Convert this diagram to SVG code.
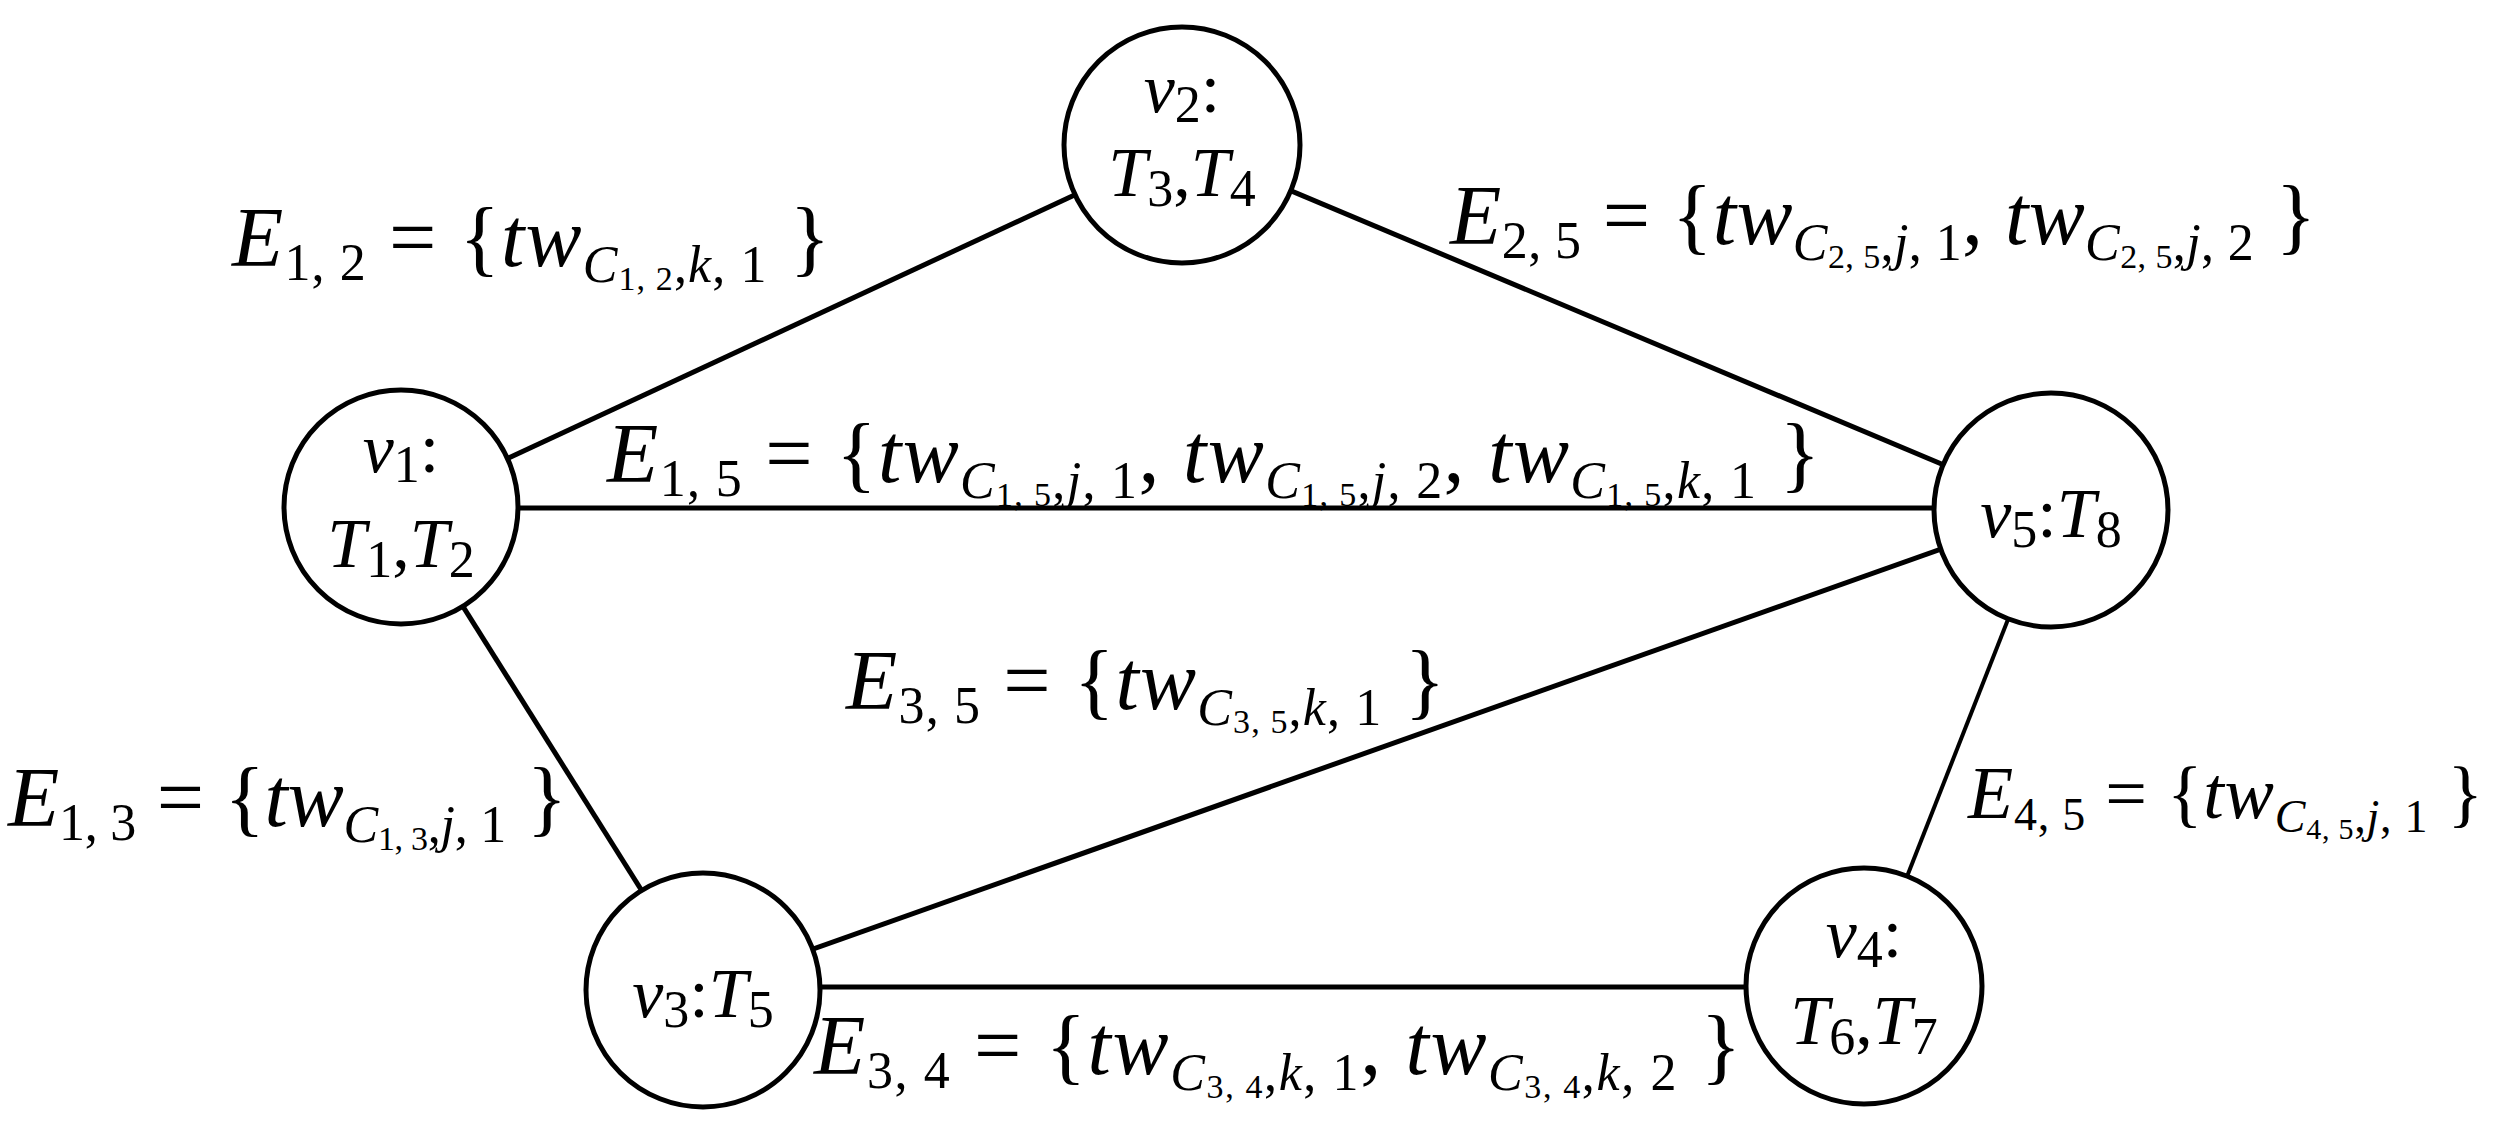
<svg xmlns="http://www.w3.org/2000/svg" width="2504" height="1135" viewBox="0 0 2504 1135">
<style>
text{font-family:"Liberation Serif","DejaVu Serif",serif;fill:#000}
.lab{font-size:84px}
.nd{font-size:70px;text-anchor:middle}
.i{font-style:italic}
.s{font-size:52px}
.ss{font-size:34px}
circle{fill:#fff;stroke:#000;stroke-width:5}
#edges line{stroke:#000;stroke-width:5}
</style>
<rect width="2504" height="1135" fill="#fff"/>
<g id="edges">
<line x1="401" y1="508" x2="1182" y2="145"/>
<line x1="1182" y1="145" x2="2051" y2="510"/>
<line x1="401" y1="508" x2="2051" y2="508"/>
<line x1="401" y1="508" x2="703" y2="988"/>
<line x1="703" y1="988" x2="2051" y2="510"/>
<line x1="703" y1="987" x2="1864" y2="987"/>
<line x1="1864" y1="986" x2="2051" y2="510" style="stroke-width:4"/>
</g>
<g id="v1"><circle cx="401" cy="507" r="117"/>
<text class="nd" x="401" y="472"><tspan class="i">v</tspan><tspan class="s" dy="10">1</tspan><tspan dy="-10">:</tspan></text>
<text class="nd" x="401" y="567"><tspan class="i">T</tspan><tspan class="s" dy="10">1</tspan><tspan dy="-10">,</tspan><tspan class="i">T</tspan><tspan class="s" dy="10">2</tspan></text></g>
<g id="v2"><circle cx="1182" cy="145" r="118"/>
<text class="nd" x="1182" y="112"><tspan class="i">v</tspan><tspan class="s" dy="10">2</tspan><tspan dy="-10">:</tspan></text>
<text class="nd" x="1182" y="196"><tspan class="i">T</tspan><tspan class="s" dy="10">3</tspan><tspan dy="-10">,</tspan><tspan class="i">T</tspan><tspan class="s" dy="10">4</tspan></text></g>
<g id="v5"><circle cx="2051" cy="510" r="117"/>
<text class="nd" x="2051" y="537"><tspan class="i">v</tspan><tspan class="s" dy="10">5</tspan><tspan dy="-10">:</tspan><tspan class="i">T</tspan><tspan class="s" dy="10">8</tspan></text></g>
<g id="v3"><circle cx="703" cy="990" r="117"/>
<text class="nd" x="703" y="1017"><tspan class="i">v</tspan><tspan class="s" dy="10">3</tspan><tspan dy="-10">:</tspan><tspan class="i">T</tspan><tspan class="s" dy="10">5</tspan></text></g>
<g id="v4"><circle cx="1864" cy="986" r="118"/>
<text class="nd" x="1864" y="957"><tspan class="i">v</tspan><tspan class="s" dy="10">4</tspan><tspan dy="-10">:</tspan></text>
<text class="nd" x="1864" y="1044"><tspan class="i">T</tspan><tspan class="s" dy="10">6</tspan><tspan dy="-10">,</tspan><tspan class="i">T</tspan><tspan class="s" dy="10">7</tspan></text></g>
<g id="labels">
<text class="lab" x="232" y="266" textLength="598" lengthAdjust="spacing"><tspan class="i">E</tspan><tspan class="s" dy="14">1, 2</tspan><tspan dy="-14"> = {</tspan><tspan class="i">tw</tspan><tspan class="s i" dy="16">C</tspan><tspan class="ss" dy="8">1, 2</tspan><tspan class="s" dy="-8">,</tspan><tspan class="s i">k</tspan><tspan class="s">, 1</tspan><tspan dy="-16"> }</tspan></text>
<text class="lab" x="1450" y="244" textLength="866" lengthAdjust="spacing"><tspan class="i">E</tspan><tspan class="s" dy="14">2, 5</tspan><tspan dy="-14"> = {</tspan><tspan class="i">tw</tspan><tspan class="s i" dy="16">C</tspan><tspan class="ss" dy="8">2, 5</tspan><tspan class="s" dy="-8">,</tspan><tspan class="s i">j</tspan><tspan class="s">, 1</tspan><tspan dy="-16">, </tspan><tspan class="i">tw</tspan><tspan class="s i" dy="16">C</tspan><tspan class="ss" dy="8">2, 5</tspan><tspan class="s" dy="-8">,</tspan><tspan class="s i">j</tspan><tspan class="s">, 2</tspan><tspan dy="-16"> }</tspan></text>
<text class="lab" x="607" y="482" textLength="1213" lengthAdjust="spacing"><tspan class="i">E</tspan><tspan class="s" dy="14">1, 5</tspan><tspan dy="-14"> = {</tspan><tspan class="i">tw</tspan><tspan class="s i" dy="16">C</tspan><tspan class="ss" dy="8">1, 5</tspan><tspan class="s" dy="-8">,</tspan><tspan class="s i">j</tspan><tspan class="s">, 1</tspan><tspan dy="-16">, </tspan><tspan class="i">tw</tspan><tspan class="s i" dy="16">C</tspan><tspan class="ss" dy="8">1, 5</tspan><tspan class="s" dy="-8">,</tspan><tspan class="s i">j</tspan><tspan class="s">, 2</tspan><tspan dy="-16">, </tspan><tspan class="i">tw</tspan><tspan class="s i" dy="16">C</tspan><tspan class="ss" dy="8">1, 5</tspan><tspan class="s" dy="-8">,</tspan><tspan class="s i">k</tspan><tspan class="s">, 1</tspan><tspan dy="-16"> }</tspan></text>
<text class="lab" x="846" y="709" textLength="599" lengthAdjust="spacing"><tspan class="i">E</tspan><tspan class="s" dy="14">3, 5</tspan><tspan dy="-14"> = {</tspan><tspan class="i">tw</tspan><tspan class="s i" dy="16">C</tspan><tspan class="ss" dy="8">3, 5</tspan><tspan class="s" dy="-8">,</tspan><tspan class="s i">k</tspan><tspan class="s">, 1</tspan><tspan dy="-16"> }</tspan></text>
<text class="lab" x="8" y="826" textLength="559" lengthAdjust="spacing"><tspan class="i">E</tspan><tspan class="s" dy="14">1, 3</tspan><tspan dy="-14"> = {</tspan><tspan class="i">tw</tspan><tspan class="s i" dy="16">C</tspan><tspan class="ss" dy="8">1, 3</tspan><tspan class="s" dy="-8">,</tspan><tspan class="s i">j</tspan><tspan class="s">, 1</tspan><tspan dy="-16"> }</tspan></text>
<text class="lab" x="1968" y="818" style="font-size:74px" textLength="515" lengthAdjust="spacing"><tspan class="i">E</tspan><tspan class="s" dy="12" style="font-size:46px">4, 5</tspan><tspan dy="-12"> = {</tspan><tspan class="i">tw</tspan><tspan class="s i" dy="14" style="font-size:46px">C</tspan><tspan class="ss" dy="7" style="font-size:30px">4, 5</tspan><tspan class="s" dy="-7" style="font-size:46px">,</tspan><tspan class="s i" style="font-size:46px">j</tspan><tspan class="s" style="font-size:46px">, 1</tspan><tspan dy="-14"> }</tspan></text>
<text class="lab" x="814" y="1074" textLength="927" lengthAdjust="spacing"><tspan class="i">E</tspan><tspan class="s" dy="14">3, 4</tspan><tspan dy="-14"> = {</tspan><tspan class="i">tw</tspan><tspan class="s i" dy="16">C</tspan><tspan class="ss" dy="8">3, 4</tspan><tspan class="s" dy="-8">,</tspan><tspan class="s i">k</tspan><tspan class="s">, 1</tspan><tspan dy="-16">, </tspan><tspan class="i">tw</tspan><tspan class="s i" dy="16">C</tspan><tspan class="ss" dy="8">3, 4</tspan><tspan class="s" dy="-8">,</tspan><tspan class="s i">k</tspan><tspan class="s">, 2</tspan><tspan dy="-16"> }</tspan></text>
</g>
</svg>
